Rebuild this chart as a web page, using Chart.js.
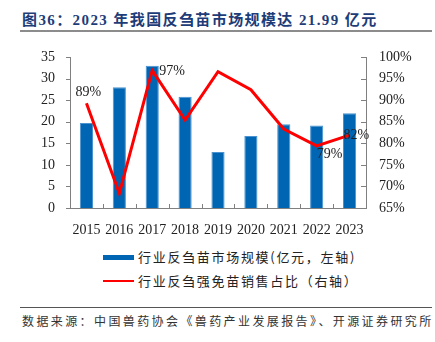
<!DOCTYPE html>
<html>
<head>
<meta charset="utf-8">
<script src="https://cdn.jsdelivr.net/npm/chart.js@4.4.1/dist/chart.umd.min.js"></script>
<style>
	body { margin: 0; background: #fff; width: 435px; height: 342px; position: relative; overflow: hidden; }
	.title { position: absolute; left: 22px; top: 8px; font: bold 15px "Liberation Serif", "Noto Sans CJK SC", serif; color: #1d3c78; letter-spacing: 1.4px; white-space: nowrap; }
	.rule { position: absolute; left: 20px; width: 412px; height: 2px; background: #8c8c8c; }
	.chartBox { position: absolute; left: 0; top: 0; }
	.legend { position: absolute; left: 103px; font: 13px "Noto Sans CJK SC", sans-serif; color: #222; letter-spacing: 1.7px; }
	.legend div { position: relative; height: 24px; line-height: 24px; padding-left: 35px; white-space: nowrap; }
	.legend span { position: absolute; left: 0; width: 31px; }
	.source { position: absolute; left: 22px; top: 312px; font: 12px "Noto Sans CJK SC", sans-serif; color: #333; letter-spacing: 2.4px; white-space: nowrap; }
</style>
</head>
<body>
<div class="title">图36：2023 年我国反刍苗市场规模达 21.99 亿元</div>
<div class="rule" style="top:30px"></div>
<div class="chartBox"><canvas id="myChart" width="435" height="240"></canvas></div>
<div class="legend" style="top:245px">
	<div><span style="top:10px;height:5px;background:#0066b4"></span>行业反刍苗市场规模(亿元，左轴)</div>
	<div><span style="top:11px;height:2px;background:#ff0000"></span>行业反刍强免苗销售占比（右轴）</div>
</div>
<div class="rule" style="top:307px;height:1px;background:#555"></div>
<div class="source">数据来源：中国兽药协会《兽药产业发展报告》、开源证券研究所</div>

<script>
// data
const years = ['2015','2016','2017','2018','2019','2020','2021','2022','2023'];
const marketSize = [19.7, 28.0, 33.0, 25.8, 13.0, 16.7, 19.4, 19.1, 21.99];
const compulsoryShare = [89.3, 68.4, 96.9, 85.4, 96.6, 92.4, 83.3, 79.4, 81.9];
const labelIdx = [0, 2, 7, 8];

const axisColor = '#808080';
const tickFont = { family: 'Liberation Serif', size: 14 };

// short tick marks pointing into the plot, drawn by hand
const axisTicks = {
	id: 'axisTicks',
	afterDraw(chart) {
		const ctx = chart.ctx;
		const area = chart.chartArea;
		const x = chart.scales.x, y = chart.scales.y, y1 = chart.scales.y1;
		ctx.save();
		ctx.strokeStyle = axisColor;
		ctx.lineWidth = 1;
		ctx.beginPath();
		y.ticks.forEach(t => {
			let py = Math.round(y.getPixelForValue(t.value)) + 0.5;
			ctx.moveTo(area.left - 4, py); ctx.lineTo(area.left, py);
		});
		y1.ticks.forEach(t => {
			let py = Math.round(y1.getPixelForValue(t.value)) + 0.5;
			ctx.moveTo(area.right - 5, py); ctx.lineTo(area.right, py);
		});
		let half = (x.getPixelForValue(1) - x.getPixelForValue(0)) / 2;
		for (let i = 0; i <= years.length; i++) {
			let px = Math.round(x.getPixelForValue(i) - half) + 0.5;
			ctx.moveTo(px, area.bottom - 4); ctx.lineTo(px, area.bottom);
		}
		ctx.stroke();

		// value labels on the line
		const meta = chart.getDatasetMeta(1);
		ctx.fillStyle = '#222';
		ctx.font = '14px "Liberation Serif"';
		ctx.textBaseline = 'middle';
		const offs = { 0: [-11, -11], 2: [7, 1], 7: [0, 8], 8: [-6, 0] };
		labelIdx.forEach(i => {
			const p = meta.data[i];
			ctx.textAlign = 'left';
			ctx.fillText(Math.round(compulsoryShare[i]) + '%', p.x + offs[i][0], p.y + offs[i][1]);
		});
		ctx.restore();
	}
};

const ctx = document.getElementById('myChart');
new Chart(ctx, {
	type: 'bar',
	data: {
		labels: years,
		datasets: [{
			label: '行业反刍苗市场规模(亿元，左轴)',
			data: marketSize,
			yAxisID: 'y',
			backgroundColor: '#0066b4',
			borderColor: '#4a93d0',
			borderWidth: 1,
			barPercentage: 0.4,
			categoryPercentage: 1,
			order: 2
		}, {
			type: 'line',
			label: '行业反刍强免苗销售占比（右轴）',
			data: compulsoryShare,
			yAxisID: 'y1',
			borderColor: '#ff0000',
			borderWidth: 3,
			pointRadius: 0,
			tension: 0,
			order: 1
		}]
	},
	options: {
		responsive: false,
		animation: false,
		layout: { padding: { top: 57, left: 0, right: 0, bottom: 0 } },
		plugins: { legend: { display: false }, tooltip: { enabled: false } },
		scales: {
			x: {
				grid: { display: false },
				border: { color: axisColor },
				ticks: { font: tickFont, color: '#222', padding: 6, maxRotation: 0 },
				afterFit: s => { s.height = 32; }
			},
			y: {
				position: 'left',
				min: 0, max: 35,
				grid: { display: false, drawTicks: false },
				border: { color: axisColor },
				ticks: { stepSize: 5, font: tickFont, color: '#222', padding: 15 },
				afterFit: s => { s.width = 70; }
			},
			y1: {
				position: 'right',
				min: 65, max: 100,
				grid: { display: false, drawTicks: false },
				border: { color: axisColor },
				ticks: { stepSize: 5, font: tickFont, color: '#222', padding: 13, callback: v => v + '%' },
				afterFit: s => { s.width = 69; }
			}
		}
	},
	plugins: [axisTicks]
});
</script>
</body>
</html>
